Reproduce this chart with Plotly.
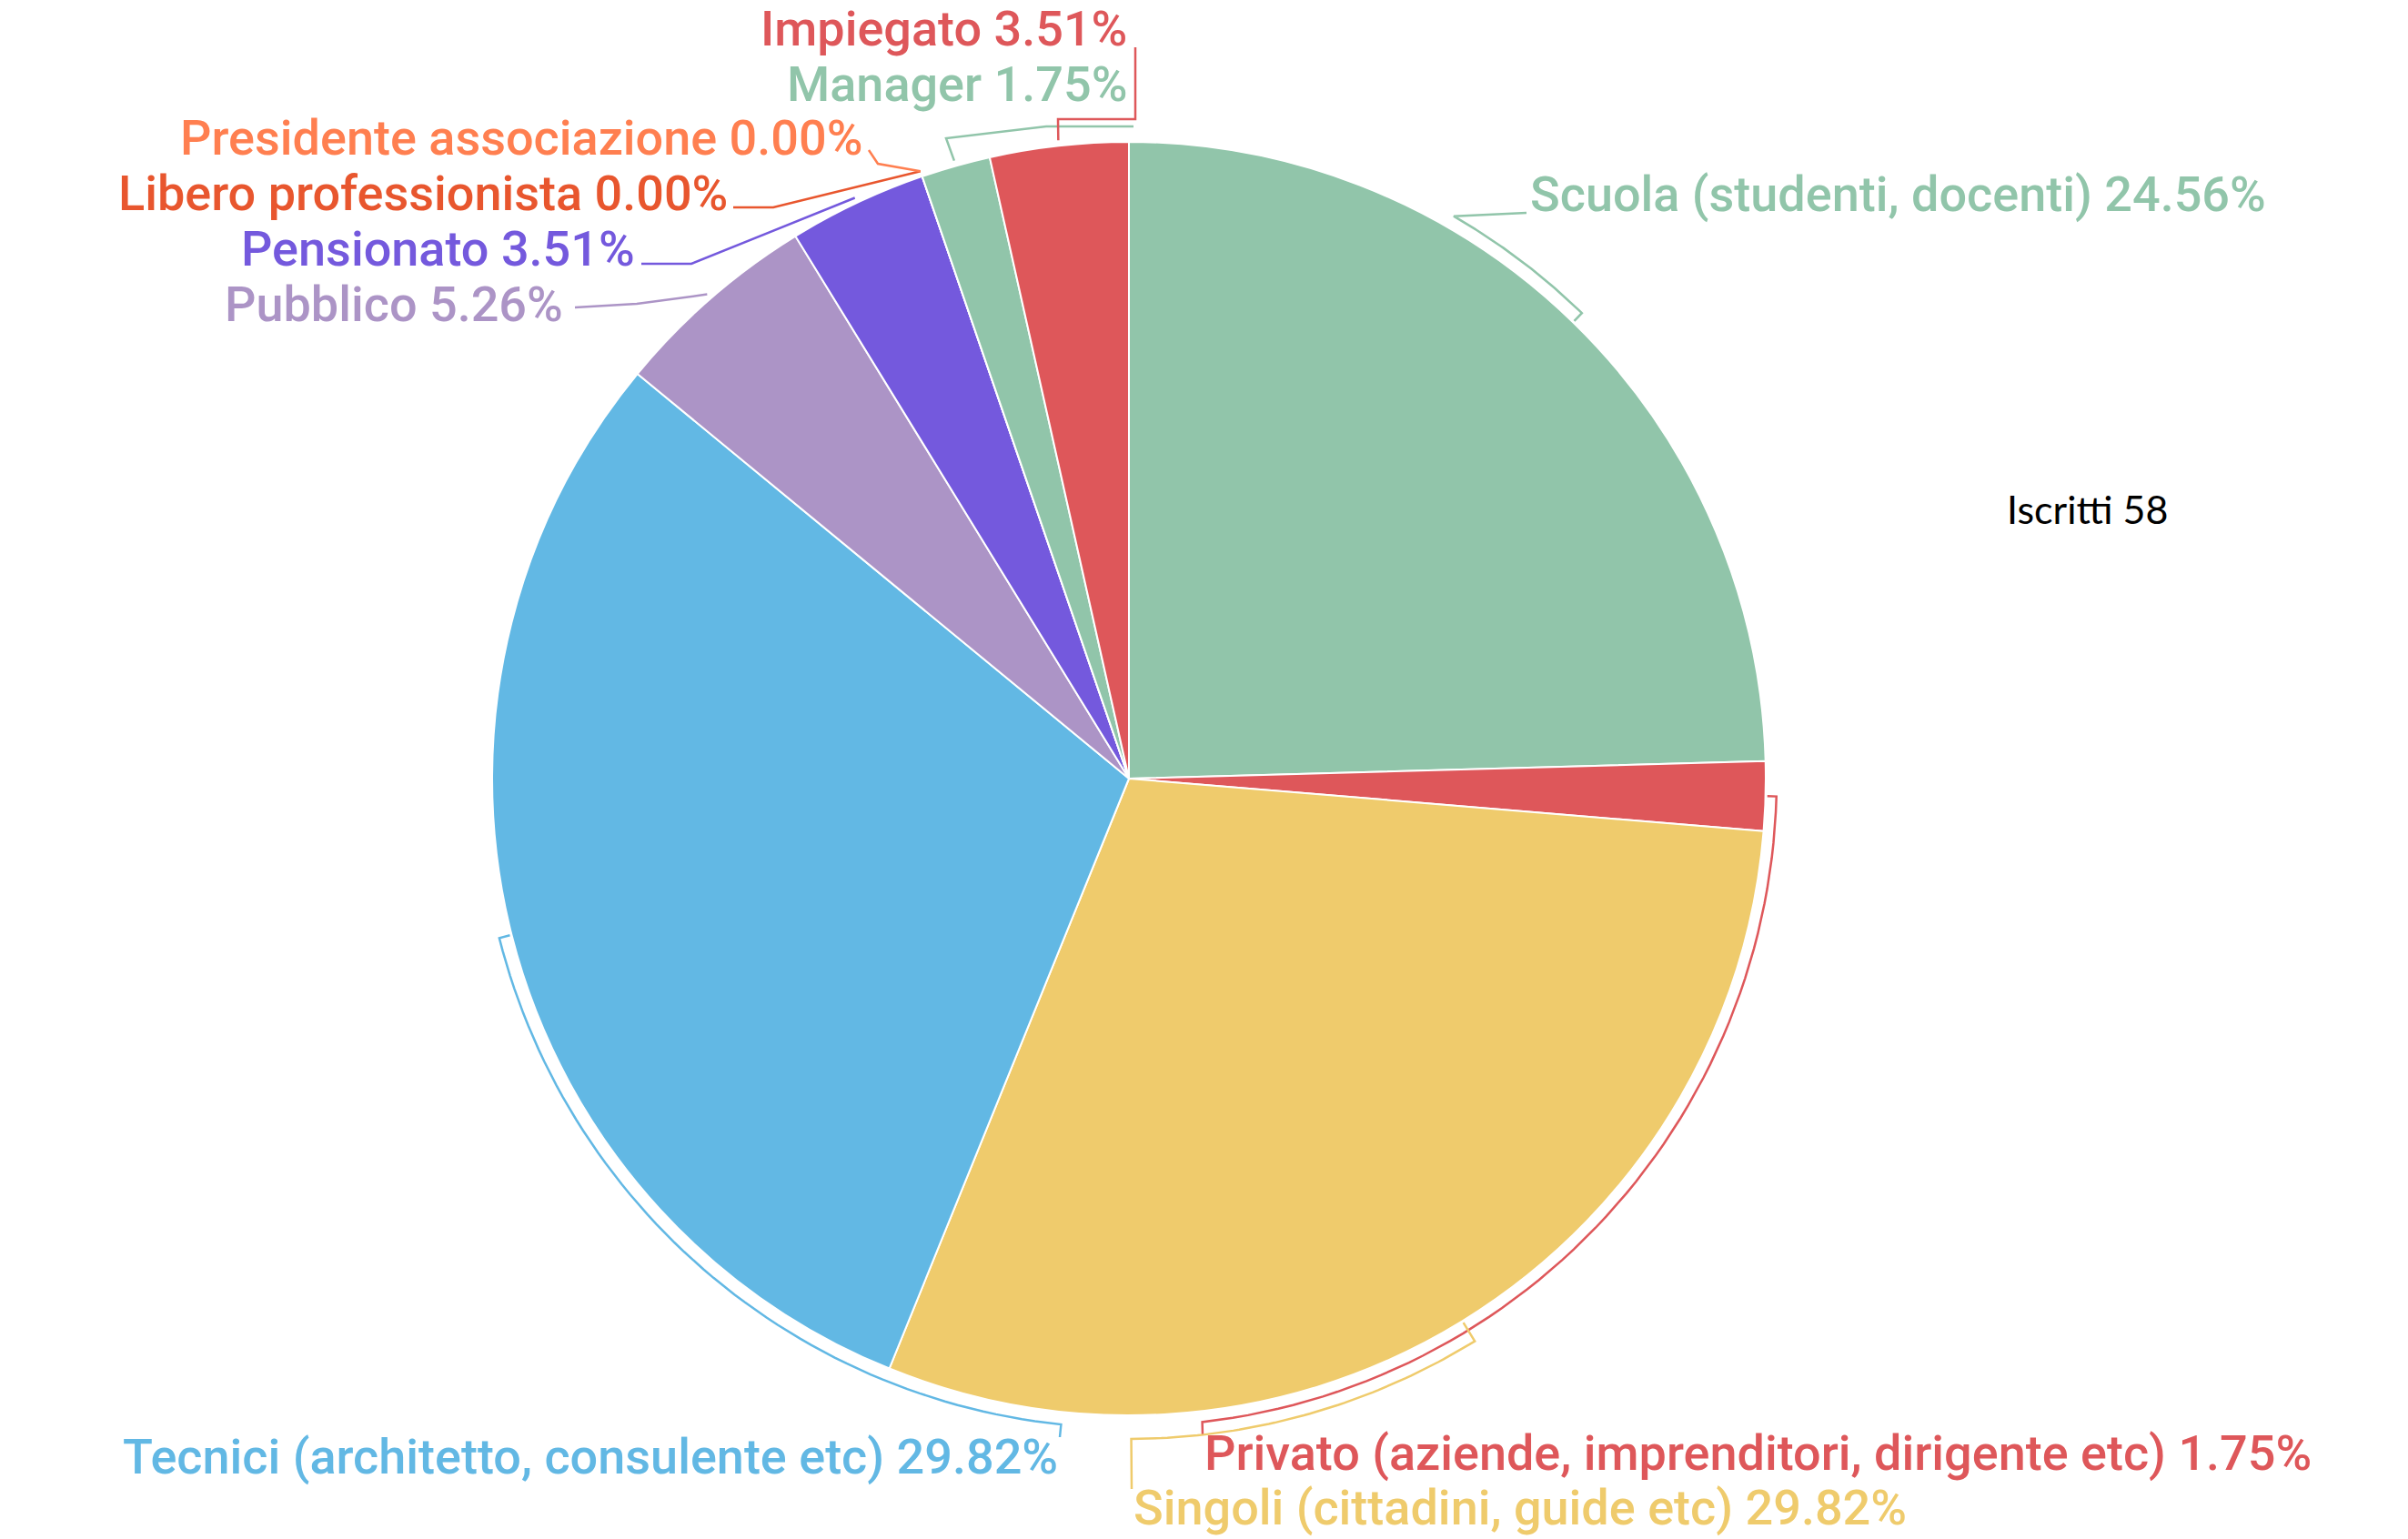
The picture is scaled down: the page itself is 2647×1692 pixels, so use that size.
import math
import plotly.graph_objects as go

# ---------------- data ----------------
categories = [
    "Scuola (studenti, docenti)",
    "Privato (aziende, imprenditori, dirigente etc)",
    "Singoli (cittadini, guide etc)",
    "Tecnici (architetto, consulente etc)",
    "Pubblico",
    "Pensionato",
    "Libero professionista",
    "Presidente associazione",
    "Manager",
    "Impiegato",
]
counts = [14, 1, 17, 17, 3, 2, 0, 0, 1, 2]
slice_colors = ["#91C5AA", "#DE575A", "#EFCB6C", "#62B8E4", "#AC94C6",
                "#7459DD", "#E8562E", "#FF7F50", "#91C5AA", "#DE575A"]
side_note = "Iscritti 58"

# ---------------- layout (pixels) ----------------
W, H = 2647, 1692
CX, CY, R = 1241, 856, 700

# label placement: (x, y, xanchor)
label_pos = [
    (1680, 213, "left"),
    (1322, 1597, "left"),
    (1244, 1657, "left"),
    (1165, 1601, "right"),
    (621, 334, "right"),
    (700, 273, "right"),
    (802, 212, "right"),
    (950, 151, "right"),
    (1241, 92, "right"),
    (1241, 31, "right"),
]
# leader routing: (arc radius offset or None, arc end angle, trailing points)
leader_route = [
    (14, 30.0, [(1678, 234)]),
    (12, 173.5, [(1322, 1578)]),
    (26, 179.8, [(1244, 1637)]),
    (14, 186.0, [(1165, 1580)]),
    (None, None, [(700, 334), (632, 338)]),
    (None, None, [(760, 290), (705, 290)]),
    (None, None, [(850, 228), (806, 228)]),
    (None, None, [(965, 180), (955, 165)]),
    (None, None, [(1040, 152), (1150, 139), (1246, 139)]),
    (None, None, [(1163, 131), (1248, 131), (1248, 52)]),
]

total = sum(counts)
cum = 0
mid_angles = []
for v in counts:
    mid_angles.append((cum + v / 2) / total * 360)
    cum += v


def pt(theta, r):
    t = math.radians(theta)
    return CX + r * math.sin(t), CY - r * math.cos(t)


fig = go.Figure()

fig.add_trace(go.Pie(
    labels=categories,
    values=counts,
    sort=False,
    direction="clockwise",
    rotation=0,
    marker=dict(colors=slice_colors, line=dict(color="white", width=2)),
    textinfo="none",
    hoverinfo="label+percent",
    showlegend=False,
    domain=dict(x=[(CX - R) / W, (CX + R) / W],
                y=[(H - CY - R) / H, (H - CY + R) / H]),
))

# leader lines
for i, (off, end_ang, trail) in enumerate(leader_route):
    xs, ys = [], []
    mid = mid_angles[i]
    if off is not None:
        x0, y0 = pt(mid, R + 2)
        xs.append(x0); ys.append(y0)
        n = 60
        for k in range(n + 1):
            a = mid + (end_ang - mid) * k / n
            x, y = pt(a, R + off)
            xs.append(x); ys.append(y)
    else:
        x0, y0 = pt(mid, R + 6)
        xs.append(x0); ys.append(y0)
    for (x, y) in trail:
        xs.append(x); ys.append(y)
    fig.add_trace(go.Scatter(x=xs, y=ys, mode="lines",
                             line=dict(color=slice_colors[i], width=2.5),
                             hoverinfo="skip", showlegend=False))

annotations = []
for i, cat in enumerate(categories):
    pct = counts[i] / total * 100
    x, y, xa = label_pos[i]
    annotations.append(dict(
        x=x, y=y, xref="x", yref="y", xanchor=xa, yanchor="middle",
        text=f"{cat} {pct:.2f}%", showarrow=False,
        font=dict(family="Roboto", size=54, color=slice_colors[i], weight=500),
    ))
annotations.append(dict(
    x=2294, y=559, xref="x", yref="y", xanchor="center", yanchor="middle",
    text=side_note, showarrow=False,
    font=dict(family="Lato", size=43, color="black"),
))

fig.update_layout(
    width=W, height=H,
    margin=dict(l=0, r=0, t=0, b=0),
    paper_bgcolor="white", plot_bgcolor="white",
    xaxis=dict(range=[0, W], visible=False, domain=[0, 1], fixedrange=True),
    yaxis=dict(range=[H, 0], visible=False, domain=[0, 1], fixedrange=True),
    annotations=annotations,
)

fig.write_html("out.html", include_plotlyjs=True,
               config={"displayModeBar": False},
               post_script="document.body.style.margin='0';document.body.style.overflow='hidden';")
